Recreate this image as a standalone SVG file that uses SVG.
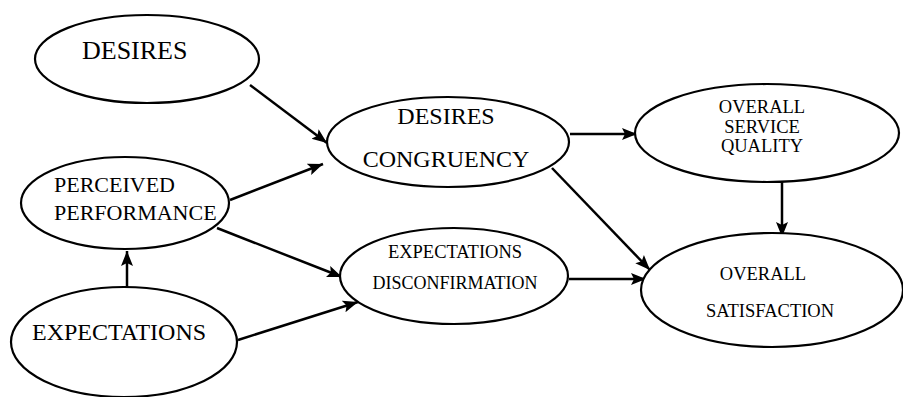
<svg xmlns="http://www.w3.org/2000/svg" width="903" height="397" viewBox="0 0 903 397">
<style>
.n{fill:#fff;stroke:#000;stroke-width:2.2}
.t{font-family:"Liberation Serif","Times New Roman",serif;fill:#000}
.e{stroke:#000;stroke-width:2.5;fill:none;marker-end:url(#ah)}
</style>
<defs>
<marker id="ah" markerUnits="userSpaceOnUse" markerWidth="16" markerHeight="14" refX="15" refY="7" orient="auto">
<path d="M0,1 L15,7 L0,13 L3,7 Z" fill="#000"/>
</marker>
</defs>
<rect width="903" height="397" fill="#fff"/>
<g id="connectors">
<line class="e" x1="250" y1="85" x2="327" y2="143"/>
<line class="e" x1="230" y1="200" x2="323" y2="164"/>
<line class="e" x1="127" y1="287" x2="127" y2="251"/>
<line class="e" x1="217" y1="228" x2="342" y2="277"/>
<line class="e" x1="238" y1="340" x2="358" y2="302"/>
<line class="e" x1="570" y1="134" x2="637" y2="134"/>
<line class="e" x1="552" y1="168" x2="650" y2="270"/>
<line class="e" x1="569" y1="279" x2="646" y2="279"/>
<line class="e" x1="782" y1="182" x2="782" y2="237"/>
</g>
<g id="desires">
<ellipse class="n" cx="147" cy="59" rx="112" ry="44"/>
<text class="t" x="82" y="59" font-size="26">DESIRES</text>
</g>
<g id="perceived-performance">
<ellipse class="n" cx="125" cy="203" rx="104" ry="46"/>
<text class="t" x="54" y="192" font-size="22">PERCEIVED</text>
<text class="t" x="54" y="220" font-size="22">PERFORMANCE</text>
</g>
<g id="expectations">
<ellipse class="n" cx="124" cy="342" rx="113" ry="55"/>
<text class="t" x="32" y="340" font-size="24">EXPECTATIONS</text>
</g>
<g id="desires-congruency">
<ellipse class="n" cx="448" cy="142" rx="121" ry="45"/>
<text class="t" x="446" y="124" font-size="24" text-anchor="middle">DESIRES</text>
<text class="t" x="446" y="167" font-size="24" text-anchor="middle">CONGRUENCY</text>
</g>
<g id="expectations-disconfirmation">
<ellipse class="n" cx="454" cy="276" rx="114" ry="48"/>
<text class="t" x="455" y="258" font-size="18.5" text-anchor="middle">EXPECTATIONS</text>
<text class="t" x="455" y="289" font-size="18" text-anchor="middle">DISCONFIRMATION</text>
</g>
<g id="overall-service-quality">
<ellipse class="n" cx="767" cy="133" rx="132" ry="49"/>
<text class="t" x="762" y="113" font-size="18.5" text-anchor="middle">OVERALL</text>
<text class="t" x="762" y="133" font-size="18.5" text-anchor="middle">SERVICE</text>
<text class="t" x="762" y="152" font-size="18.5" text-anchor="middle">QUALITY</text>
</g>
<g id="overall-satisfaction">
<ellipse class="n" cx="772" cy="290" rx="131" ry="57"/>
<text class="t" x="763" y="280" font-size="18.5" text-anchor="middle">OVERALL</text>
<text class="t" x="770" y="317" font-size="18.5" text-anchor="middle">SATISFACTION</text>
</g>
</svg>
